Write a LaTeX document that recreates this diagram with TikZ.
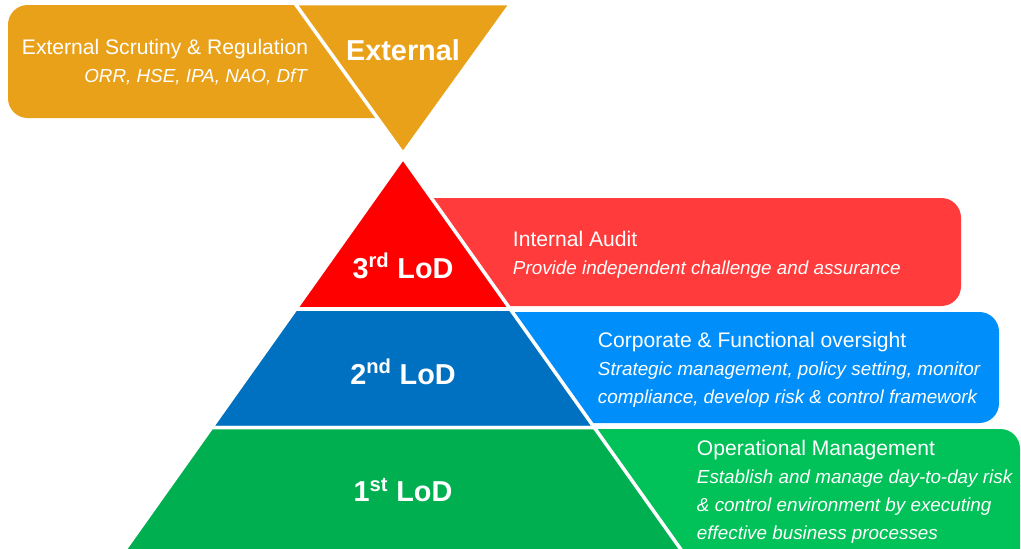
\documentclass[tikz,border=0pt]{standalone}
\usepackage{fontspec}
\setmainfont{Liberation Sans}
\usetikzlibrary{positioning}
\definecolor{extorange}{RGB}{234,161,26}
\definecolor{lodred}{RGB}{255,0,0}
\definecolor{bandred}{RGB}{255,59,59}
\definecolor{lodblue}{RGB}{0,112,192}
\definecolor{bandblue}{RGB}{0,143,250}
\definecolor{lodgreen}{RGB}{0,176,80}
\definecolor{bandgreen}{RGB}{0,194,88}
\newcommand{\headline}[1]{{\fontsize{15}{19.9}\selectfont #1}}

\begin{document}
\begin{tikzpicture}[x=0.025cm, y=-0.025cm,
		band/.style={rounded corners=14pt},
		tier/.style={draw=white, line width=2.5pt},
		lodlabel/.style={text=white, font=\fontsize{20.5}{24}\selectfont\bfseries},
		desc/.style={text=white, align=left, anchor=west, font=\fontsize{13.4}{19.9}\selectfont},
	]
		\clip (0,0) rectangle (1021,548);
		\fill[white] (0,0) rectangle (1021,548);

		% Bänder (liegen unter den Dreiecken)
		\fill[band, extorange] (8,5) rectangle (400,118);
		\fill[band, bandred] (385,198) rectangle (961,306);
		\fill[band, bandblue] (470,312) rectangle (999,423);
		\fill[band, bandgreen] (560,429) rectangle (1020,600);

		% External: umgedrehtes Dreieck
		\filldraw[tier, fill=extorange] (295,3.5) -- (511,3.5) -- (403,153.5) -- cycle;

		% Pyramide
		\filldraw[tier, fill=lodred] (403,158) -- (510.2,309) -- (295.8,309) -- cycle;
		\filldraw[tier, fill=lodblue] (295.8,309) -- (510.2,309) -- (594.3,427.5) -- (211.7,427.5) -- cycle;
		\filldraw[tier, fill=lodgreen] (211.7,427.5) -- (594.3,427.5) -- (688.4,560) -- (117.6,560) -- cycle;

		% Beschriftungen
		\node[lodlabel] (ext) at (403,50) {External};
		\node[text=white, align=right, anchor=east, font=\fontsize{13.4}{19.9}\selectfont] (extdesc) at (313,62)
			{\headline{External Scrutiny \& Regulation}\\ \textit{ORR, HSE, IPA, NAO, DfT}};

		\node[lodlabel] (lod3) at (403,266) {3\textsuperscript{rd} LoD};
		\node[lodlabel] (lod2) at (403,372) {2\textsuperscript{nd} LoD};
		\node[lodlabel] (lod1) at (403,490) {1\textsuperscript{st} LoD};

		\node[desc] (audit) at (508,255)
			{\headline{Internal Audit}\\ \textit{Provide independent challenge and assurance}};
		\node[desc] (oversight) at (593,370)
			{\headline{Corporate \& Functional oversight}\\
			 \textit{Strategic management, policy setting, monitor}\\
			 \textit{compliance, develop risk \& control framework}};
		\node[desc] (opman) at (692,492)
			{\headline{Operational Management}\\
			 \textit{Establish and manage day-to-day risk}\\
			 \textit{\& control environment by executing}\\
			 \textit{effective business processes}};
	\end{tikzpicture}
\end{document}
